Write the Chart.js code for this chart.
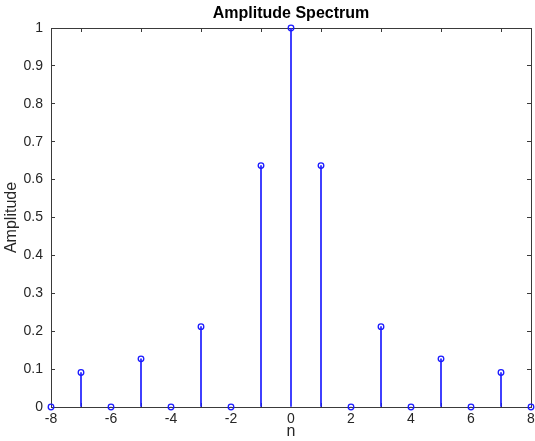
<!DOCTYPE html>
<html>
<head>
<meta charset="utf-8">
<script src="https://cdn.jsdelivr.net/npm/chart.js@4/dist/chart.umd.min.js"></script>
<style>
  html, body { margin: 0; padding: 0; background: #ffffff; }
  canvas { display: block; }
</style>
</head>
<body>
<canvas id="chart" width="535" height="441"></canvas>
<script>
// stem plot data
const nValues = [-8, -7, -6, -5, -4, -3, -2, -1, 0, 1, 2, 3, 4, 5, 6, 7, 8];
const amplitudes = [0, 0.091, 0, 0.127, 0, 0.212, 0, 0.637, 1, 0.637, 0, 0.212, 0, 0.127, 0, 0.091, 0];
const xTicks = [-8, -6, -4, -2, 0, 2, 4, 6, 8];
const yTicks = [0, 0.1, 0.2, 0.3, 0.4, 0.5, 0.6, 0.7, 0.8, 0.9, 1];

const points = nValues.map((n, i) => ({ x: n, y: amplitudes[i] }));
const stemColor = '#1a1aff';
const axisColor = '#3a3a3a';
const textColor = '#262626';
const fontFamily = '"Liberation Sans", Arial, Helvetica, sans-serif';

const fmt = v => String(Number(v.toFixed(1)));

// ticks point inward, so negative tick length
const gridCfg = { drawOnChartArea: false, drawTicks: true, tickLength: -4, color: axisColor, lineWidth: 1 };
const borderCfg = { display: true, color: axisColor, width: 1 };

// fixed box sizes, and no extra padding for overhanging labels
const fixSize = (prop, size) => s => {
    s[prop] = size;
    s.paddingLeft = 0; s.paddingRight = 0; s.paddingTop = 0; s.paddingBottom = 0;
};

new Chart(document.getElementById('chart').getContext('2d'), {
    type: 'bar',
    data: {
        datasets: [{
            type: 'bar',
            data: points,
            backgroundColor: stemColor,
            borderWidth: 0,
            barThickness: 1,
            xAxisID: 'x',
            yAxisID: 'y',
            order: 2
        }, {
            type: 'scatter',
            data: points,
            showLine: false,
            pointStyle: 'circle',
            pointRadius: 2.8,
            pointBorderWidth: 1.3,
            pointBorderColor: stemColor,
            pointBackgroundColor: 'rgba(255,255,255,0)',
            clip: false,
            xAxisID: 'x',
            yAxisID: 'y',
            order: 1
        }]
    },
    options: {
        responsive: false,
        animation: false,
        devicePixelRatio: 1,
        layout: { padding: 0, autoPadding: false },
        plugins: {
            legend: { display: false },
            tooltip: { enabled: false },
            title: { display: false }
        },
        scales: {
            x: {
                type: 'linear',
                position: 'bottom',
                min: -8, max: 8,
                offset: false,
                afterBuildTicks: s => { s.ticks = xTicks.map(v => ({ value: v })); },
                afterFit: fixSize('height', 34),
                grid: gridCfg,
                border: borderCfg,
                ticks: { color: textColor, font: { family: fontFamily, size: 14 }, padding: 7.5, maxRotation: 0, callback: fmt },
                title: { display: true, text: 'n', color: textColor, font: { family: fontFamily, size: 16 }, padding: { top: 0, bottom: 0 } }
            },
            x2: {
                type: 'linear',
                position: 'top',
                min: -8, max: 8,
                offset: false,
                afterBuildTicks: s => { s.ticks = xTicks.map(v => ({ value: v })); },
                afterFit: fixSize('height', 28),
                grid: gridCfg,
                border: borderCfg,
                ticks: { display: false },
                title: { display: true, text: 'Amplitude Spectrum', color: '#000000', font: { family: fontFamily, size: 16, weight: 'bold' }, padding: { top: 4, bottom: 0 } }
            },
            y: {
                type: 'linear',
                position: 'left',
                min: 0, max: 1,
                afterBuildTicks: s => { s.ticks = yTicks.map(v => ({ value: v })); },
                afterFit: fixSize('width', 51),
                grid: gridCfg,
                border: borderCfg,
                ticks: { color: textColor, font: { family: fontFamily, size: 14 }, padding: 12, callback: fmt },
                title: { display: true, text: 'Amplitude', color: textColor, font: { family: fontFamily, size: 16 }, padding: { top: 2, bottom: 0 } }
            },
            y2: {
                type: 'linear',
                position: 'right',
                min: 0, max: 1,
                afterBuildTicks: s => { s.ticks = yTicks.map(v => ({ value: v })); },
                afterFit: fixSize('width', 4),
                grid: gridCfg,
                border: borderCfg,
                ticks: { display: false }
            }
        }
    }
});
</script>
</body>
</html>
